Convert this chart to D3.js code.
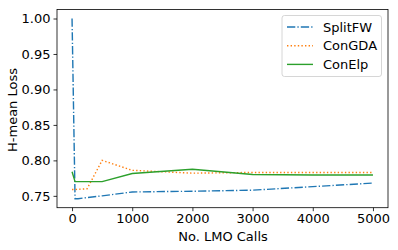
<!DOCTYPE html>
<html><head><meta charset="utf-8">
<script src="https://cdn.jsdelivr.net/npm/d3@7"></script>
<style>body{margin:0;background:#fff}svg{display:block}text{font-family:"DejaVu Sans",sans-serif}</style>
</head><body><svg id="c" width="398" height="250"></svg>
<script>
const xTicks = [0, 1000, 2000, 3000, 4000, 5000];
const yTicks = [0.75, 0.80, 0.85, 0.90, 0.95, 1.00];
const splitX = [0, 50, 100, 500, 1000, 2000, 3000, 4000, 5000];
const splitY = [1.0, 0.746, 0.746, 0.750, 0.7555, 0.7565, 0.758, 0.763, 0.768];
const gdaX = [0, 50, 250, 500, 1000, 2000, 3000, 4000, 5000];
const gdaY = [0.759, 0.759, 0.760, 0.800, 0.786, 0.782, 0.783, 0.783, 0.783];
const elpX = [0, 50, 500, 1000, 2000, 3000, 4000, 5000];
const elpY = [0.784, 0.770, 0.770, 0.7815, 0.7875, 0.780, 0.7795, 0.7795];
const seriesNames = ["SplitFW", "ConGDA", "ConElp"];

const svg = d3.select("#c");
const L = 57, R = 388, T = 9.5, B = 207.7;
const x = d3.scaleLinear().domain([-250, 5250]).range([L, R]);
const y = d3.scaleLinear().domain([0.7333, 1.0127]).range([B, T]);

const series = [
  {name: seriesNames[0], xs: splitX, ys: splitY, color: "#1f77b4", dash: "8.3,2.1,1.3,2.1"},
  {name: seriesNames[1], xs: gdaX, ys: gdaY, color: "#ff7f0e", dash: "1.4,2.2"},
  {name: seriesNames[2], xs: elpX, ys: elpY, color: "#2ca02c", dash: null}
];
const line = d3.line().x(d => x(d[0])).y(d => y(d[1]));
series.forEach(s => {
  svg.append("path").datum(s.xs.map((v, i) => [v, s.ys[i]]))
    .attr("d", line).attr("fill", "none").attr("stroke", s.color)
    .attr("stroke-width", 1.4).attr("stroke-dasharray", s.dash);
});

const fs = "13px";
const xa = svg.append("g").attr("transform", `translate(0,${B})`)
  .call(d3.axisBottom(x).tickValues(xTicks).tickSize(3.5).tickPadding(3).tickFormat(d3.format("d")));
const ya = svg.append("g").attr("transform", `translate(${L},0)`)
  .call(d3.axisLeft(y).tickValues(yTicks).tickSize(3.5).tickPadding(3).tickFormat(d3.format(".2f")));
[xa, ya].forEach(a => {
  a.select(".domain").remove();
  a.selectAll("line").attr("stroke", "#000").attr("stroke-width", 0.8);
  a.selectAll("text").attr("font-size", fs).attr("fill", "#000").attr("font-family", "DejaVu Sans");
});
svg.append("rect").attr("x", L).attr("y", T).attr("width", R - L).attr("height", B - T)
  .attr("fill", "none").attr("stroke", "#000").attr("stroke-width", 0.8);

svg.append("text").attr("x", 223).attr("y", 241).attr("text-anchor", "middle")
  .attr("font-size", fs).text("No. LMO Calls");
svg.append("text").attr("transform", `translate(16.5,110) rotate(-90)`)
  .attr("text-anchor", "middle").attr("font-size", fs).text("H-mean Loss");

const lg = svg.append("g");
lg.append("rect").attr("x", 282).attr("y", 15.5).attr("width", 99.5).attr("height", 61)
  .attr("rx", 2.5).attr("fill", "#fff").attr("fill-opacity", 0.8).attr("stroke", "#ccc").attr("stroke-width", 0.8);
series.forEach((s, i) => {
  const yy = 27 + i * 18.7;
  lg.append("line").attr("x1", 287).attr("x2", 313).attr("y1", yy).attr("y2", yy)
    .attr("stroke", s.color).attr("stroke-width", 1.4).attr("stroke-dasharray", s.dash);
  lg.append("text").attr("x", 323).attr("y", yy).attr("dy", "0.36em")
    .attr("font-size", fs).text(s.name);
});
</script></body></html>
